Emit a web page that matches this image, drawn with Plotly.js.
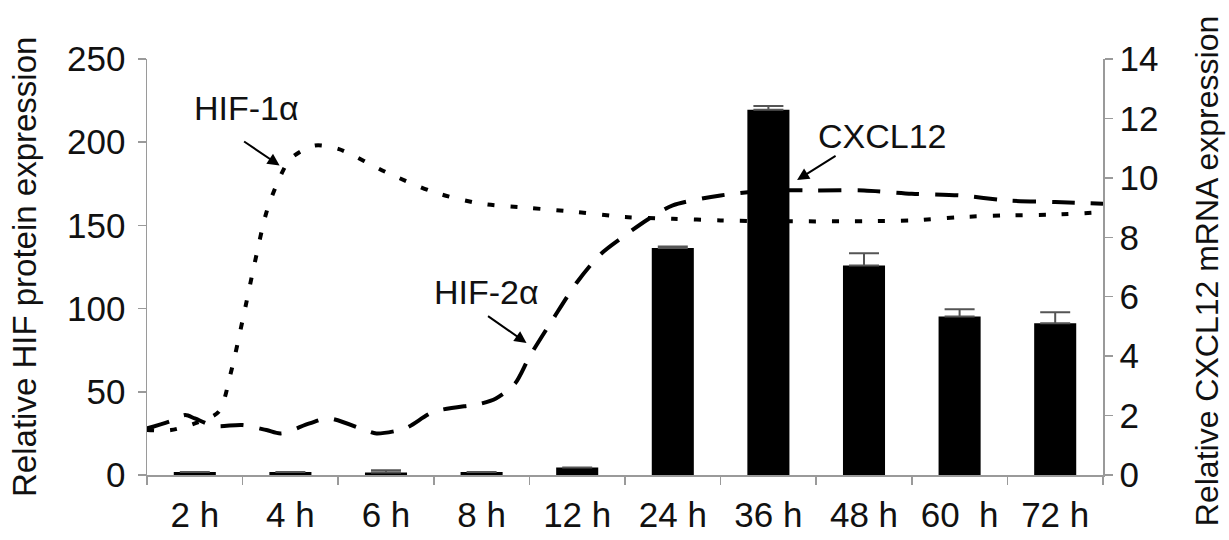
<!DOCTYPE html>
<html>
<head>
<meta charset="utf-8">
<script src="https://cdn.plot.ly/plotly-3.0.1.min.js"></script>
<style>
  html, body { margin: 0; padding: 0; background: #ffffff; }
  #chart { width: 1229px; height: 540px; }
</style>
</head>
<body>
<div id="chart"></div>
<script>
// Time points after hypoxia onset
const timeLabels = ['2 h', '4 h', '6 h', '8 h', '12 h', '24 h', '36 h', '48 h', '60\u00a0\u00a0h', '72 h'];

// CXCL12 mRNA (bars, right axis) with upper error
const cxcl12 = [0.1, 0.1, 0.08, 0.1, 0.25, 7.64, 12.29, 7.05, 5.33, 5.11];
const cxcl12Err = [0, 0, 0.08, 0, 0, 0.05, 0.13, 0.41, 0.25, 0.37];

// HIF protein curves (left axis); positions are in time-slot units (0 = 2 h, 9 = 72 h)
const hif1Pos = [-0.5, -0.25, 0, 0.25, 0.375, 0.5, 0.625, 0.75, 0.875, 1.0, 1.25, 1.5, 2.0, 2.5, 3.0, 3.5, 4.0, 4.5, 5.0, 5.5, 6.0, 7.0, 7.5, 8.0, 8.5, 9.0, 9.5];
const hif1 =    [27,   27,    31, 38,   61,    93,  127,   158,  177,   190, 198,  196, 182, 170, 163, 160.5, 158, 155, 154, 153, 152.5, 152.5, 153, 155, 156, 156.5, 158];

const hif2Pos = [-0.5, -0.25, -0.1, 0, 0.2, 0.5, 0.75, 0.9, 1.2, 1.4, 1.8, 1.9, 2.2, 2.5, 3.0, 3.15, 3.35, 3.5, 3.75, 4.0, 4.25, 4.5, 4.75, 5.0, 5.5, 6.0, 6.5, 7.0, 7.5, 8.0, 8.5, 9.0, 9.5];
const hif2 =    [28,   32.5,  36,   34, 29.5, 30, 27,  25,  31,  34,  26.5, 25, 28,  38,  43,  46,   55,   71,  94,   116, 133,  144, 154,  162, 168, 171, 171, 171, 169, 168, 165, 164, 163];

const slotIndex = timeLabels.map((_, i) => i);

const FONT = '"Liberation Sans", Arial, sans-serif';
const AXIS_GRAY = '#9a9a9a';

const traces = [
  {
    type: 'bar',
    name: 'CXCL12',
    x: slotIndex,
    y: cxcl12,
    xaxis: 'x',
    yaxis: 'y2',
    width: 0.44,
    marker: { color: '#000000', line: { width: 0 } },
    error_y: {
      type: 'data',
      symmetric: false,
      array: cxcl12Err,
      arrayminus: cxcl12.map(() => 0),
      color: '#555555',
      thickness: 2,
      width: 15
    },
    hoverinfo: 'skip'
  },
  {
    type: 'scatter',
    mode: 'lines',
    name: 'HIF-1\u03b1',
    x: hif1Pos,
    y: hif1,
    xaxis: 'x',
    yaxis: 'y',
    line: { color: '#000000', width: 4, dash: '7px,16px', shape: 'spline', smoothing: 0.8 },
    hoverinfo: 'skip'
  },
  {
    type: 'scatter',
    mode: 'lines',
    name: 'HIF-2\u03b1',
    x: hif2Pos,
    y: hif2,
    xaxis: 'x',
    yaxis: 'y',
    line: { color: '#000000', width: 4, dash: '23px,16px', shape: 'spline', smoothing: 0.8 },
    hoverinfo: 'skip'
  }
];

const tickFont = { family: FONT, size: 35, color: '#111111' };
const titleFont = { family: FONT, size: 33, color: '#111111' };
const rightTitleFont = { family: FONT, size: 32, color: '#111111' };
const labelFont = { family: FONT, size: 34, color: '#111111' };

const layout = {
  width: 1229,
  height: 540,
  margin: { l: 147, r: 126, t: 59, b: 65, pad: 0 },
  paper_bgcolor: '#ffffff',
  plot_bgcolor: '#ffffff',
  showlegend: false,
  xaxis: {
    type: 'linear',
    range: [-0.5, 9.5],
    tickmode: 'array',
    tickvals: slotIndex,
    ticktext: timeLabels,
    tickangle: 0,
    ticks: '',
    ticklabelstandoff: 8,
    minor: { tick0: -0.5, dtick: 1, ticks: 'outside', ticklen: 8, tickwidth: 1.5, tickcolor: AXIS_GRAY, showgrid: false },
    showline: true,
    linecolor: AXIS_GRAY,
    linewidth: 1.5,
    tickfont: tickFont,
    showgrid: false,
    zeroline: false,
    fixedrange: true
  },
  yaxis: {
    range: [0, 250],
    dtick: 50,
    showline: true,
    linecolor: AXIS_GRAY,
    linewidth: 1.5,
    ticks: 'outside',
    ticklen: 8,
    tickwidth: 1.5,
    tickcolor: AXIS_GRAY,
    tickfont: tickFont,
    ticklabelstandoff: 5,
    showgrid: false,
    zeroline: false,
    fixedrange: true
  },
  yaxis2: {
    overlaying: 'y',
    side: 'right',
    anchor: 'x',
    range: [0, 14],
    dtick: 2,
    showline: true,
    linecolor: AXIS_GRAY,
    linewidth: 1.5,
    ticks: 'outside',
    ticklen: 8,
    tickwidth: 1.5,
    tickcolor: AXIS_GRAY,
    tickfont: tickFont,
    showgrid: false,
    zeroline: false,
    fixedrange: true
  },
  annotations: [
    // axis titles
    { text: 'Relative HIF protein expression', xref: 'paper', yref: 'paper', x: -0.1287, y: 0.5,
      xanchor: 'center', yanchor: 'middle', textangle: -90, showarrow: false, font: titleFont },
    { text: 'Relative CXCL12 mRNA expression', xref: 'paper', yref: 'paper', x: 1.1088, y: 0.49,
      xanchor: 'center', yanchor: 'middle', textangle: -90, showarrow: false, font: rightTitleFont },
    // series labels
    { text: 'HIF-1\u03b1', xref: 'x', yref: 'y', x: 0.544, y: 220.5, showarrow: false,
      xanchor: 'center', yanchor: 'middle', font: labelFont },
    { text: 'HIF-2\u03b1', xref: 'x', yref: 'y', x: 3.05, y: 110, showarrow: false,
      xanchor: 'center', yanchor: 'middle', font: labelFont },
    { text: 'CXCL12', xref: 'x', yref: 'y', x: 7.19, y: 203.7, showarrow: false,
      xanchor: 'center', yanchor: 'middle', font: labelFont },
    // pointer arrows
    { text: '', xref: 'x', yref: 'y', x: 0.887, y: 186, ax: -37, ay: -25, showarrow: true,
      arrowhead: 2, arrowsize: 1.2, arrowwidth: 2, arrowcolor: '#000000', standoff: 0 },
    { text: '', xref: 'x', yref: 'y', x: 3.47, y: 79.3, ax: -40, ay: -28, showarrow: true,
      arrowhead: 2, arrowsize: 1.2, arrowwidth: 2, arrowcolor: '#000000', standoff: 0 },
    { text: '', xref: 'x', yref: 'y', x: 6.30, y: 177.3, ax: 40, ay: -25, showarrow: true,
      arrowhead: 2, arrowsize: 1.2, arrowwidth: 2, arrowcolor: '#000000', standoff: 0 }
  ]
};

Plotly.newPlot('chart', traces, layout, { staticPlot: true, displayModeBar: false });
</script>
</body>
</html>
